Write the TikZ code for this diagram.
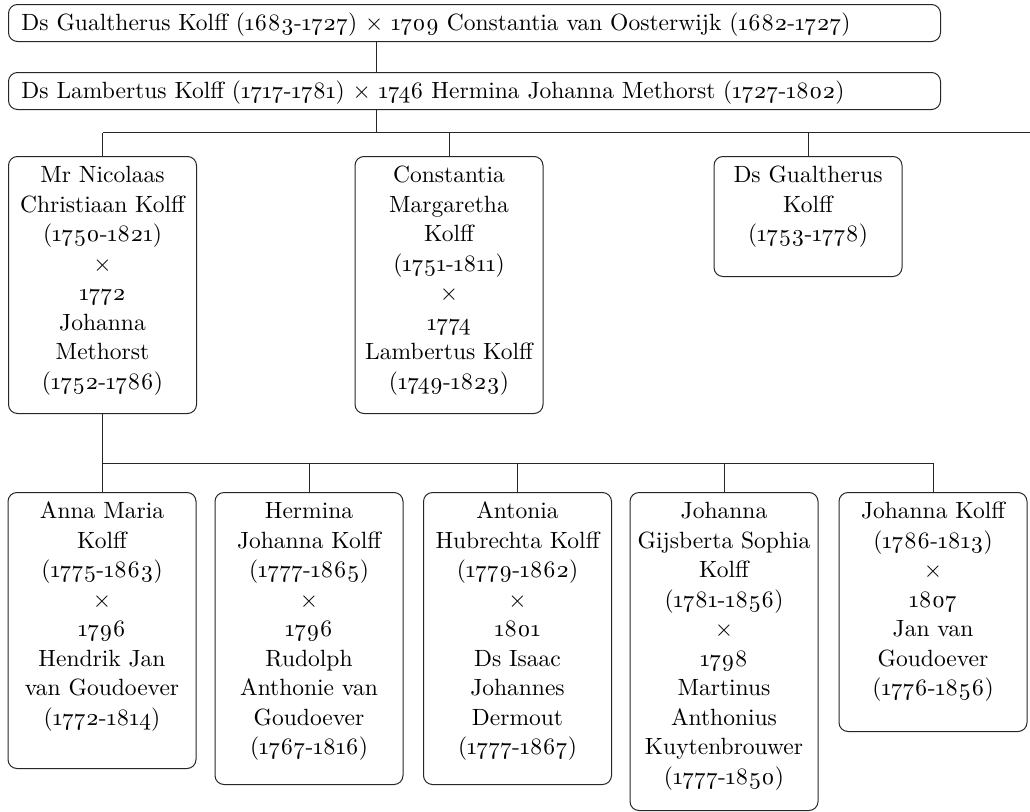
\documentclass[tikz,border=0pt]{standalone}
\usepackage{fontspec}
\setmainfont{lmroman10-regular.otf}[Numbers=OldStyle]
\newcommand{\bx}[2]{\parbox[c][#1pt][t]{188pt}{\centering\rule{0pt}{26pt}#2\par}}
\newcommand{\tx}[1]{\parbox[c][37pt][t]{932pt}{\hspace*{13pt}\rule{0pt}{26pt}#1\par}}
\tikzset{
  pbox/.style={draw=black!85, line width=1pt, rounded corners=9pt, inner sep=0pt,
    anchor=north, text=black, font=\fontsize{23.5}{29.5}\selectfont},
  tbox/.style={pbox, anchor=north west},
  link/.style={draw=black!85, line width=1pt}
}
\begin{document}
\begin{tikzpicture}[x=1pt,y=1pt]
\useasboundingbox (0,0) rectangle (1030,-811);
% top couples
\node[tbox] (t1) at (8,-4) {\tx{Ds Gualtherus Kolff (1683-1727) × 1709 Constantia van Oosterwijk (1682-1727)}};
\node[tbox] (t2) at (8,-72) {\tx{Ds Lambertus Kolff (1717-1781) × 1746 Hermina Johanna Methorst (1727-1802)}};
% second generation
\node[pbox] (A) at (102.5,-156) {\bx{257}{Mr Nicolaas\\Christiaan Kolff\\(1750-1821)\\×\\1772\\Johanna\\Methorst\\(1752-1786)}};
\node[pbox] (B) at (449,-156) {\bx{257}{Constantia\\Margaretha\\Kolff\\(1751-1811)\\×\\1774\\Lambertus Kolff\\(1749-1823)}};
\node[pbox] (C) at (808,-156) {\bx{120}{Ds Gualtherus\\Kolff\\(1753-1778)}};
% third generation
\node[pbox] (K1) at (102,-492) {\bx{276}{Anna Maria\\Kolff\\(1775-1863)\\×\\1796\\Hendrik Jan\\van Goudoever\\(1772-1814)}};
\node[pbox] (K2) at (309,-492) {\bx{292}{Hermina\\Johanna Kolff\\(1777-1865)\\×\\1796\\Rudolph\\Anthonie van\\Goudoever\\(1767-1816)}};
\node[pbox] (K3) at (517.5,-492) {\bx{292}{Antonia\\Hubrechta Kolff\\(1779-1862)\\×\\1801\\Ds Isaac\\Johannes\\Dermout\\(1777-1867)}};
\node[pbox] (K4) at (724,-492) {\bx{318}{Johanna\\Gijsberta Sophia\\Kolff\\(1781-1856)\\×\\1798\\Martinus\\Anthonius\\Kuytenbrouwer\\(1777-1850)}};
\node[pbox] (K5) at (933,-492) {\bx{239}{Johanna Kolff\\(1786-1813)\\×\\1807\\Jan van\\Goudoever\\(1776-1856)}};
% connectors
\coordinate (j0) at (376,-132.7);
\coordinate (r0) at (1030,-132.7);
\draw[link] (t1.south -| j0) -- (t2.north -| j0);
\draw[link] (t2.south -| j0) -- (j0);
\draw[link] (A.north |- j0) -- (r0);
\foreach \n in {A,B,C} \draw[link] (\n.north) -- (\n.north |- j0);
\coordinate (j1) at (0,-463);
\draw[link] (A.south) -- (A.south |- j1) -- (K5.north |- j1);
\foreach \n in {K1,K2,K3,K4,K5} \draw[link] (\n.north) -- (\n.north |- j1);
\end{tikzpicture}
\end{document}
